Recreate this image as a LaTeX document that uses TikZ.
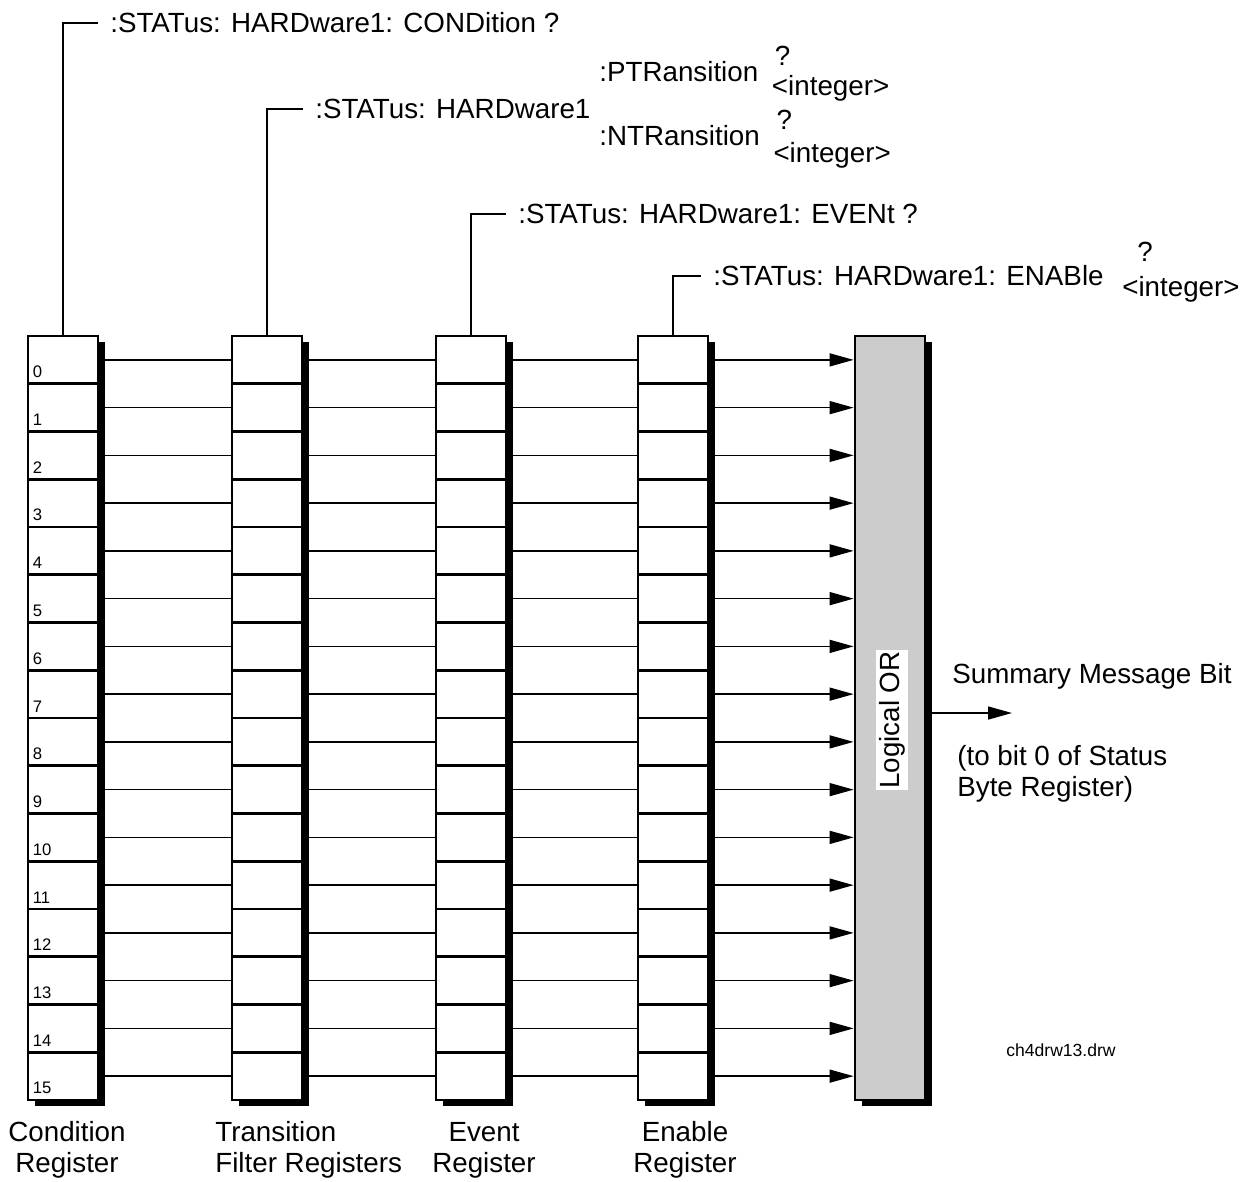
\documentclass[tikz,border=0pt]{standalone}
\usepackage{fontspec}
\setmainfont{Liberation Sans}
\usetikzlibrary{arrows.meta,shadows,positioning}

\begin{document}
\begin{tikzpicture}[x=0.02cm, y=-0.02cm,
every edge/.style = {draw=black, line width=0.85pt},
 reg/.style = {rectangle, draw, line width=1.6pt, fill=#1,
      minimum width=1.4cm, minimum height=15.28cm, inner sep=0pt,
      drop shadow={shadow xshift=0.14cm, shadow yshift=-0.12cm,
                   fill=black, opacity=1}},
 reg/.default = white,
 cell/.style = {rectangle, draw, line width=1.6pt,
      minimum width=1.4cm, minimum height=0.955cm, inner sep=0pt},
 bitno/.style = {anchor=south west, inner sep=0pt,
      font=\fontsize{9.5}{10}\selectfont},
 txt/.style = {inner sep=0pt, font=\fontsize{15.8}{17.8}\selectfont},
 cmd/.style = {txt, anchor=west, inner xsep=0.24cm},
 leader/.style = {draw, line width=1.1pt},
 toor/.style = {-{Triangle[length=0.48cm, width=0.26cm]}}
                    ]
\useasboundingbox (0,0) rectangle (1247,1181);
% registers
\foreach \r/\x in {cond/63, trans/267, event/471, enab/673}{
  \node(\r) [reg] at (\x, 718) {};
  \foreach \i in {0,...,15}
    \node(\r-\i) [cell] at (\x, 359.875+47.75*\i) {};
}
\foreach \i in {0,...,15}
  \node(no\i) [bitno] at ([xshift=0.12cm, yshift=0.14cm]cond-\i.south west) {\i};
\node(or) [reg=black!20] at (890, 718) {};
\node(orlbl) [txt, fill=white, rotate=90, inner xsep=1pt, inner ysep=2pt] at (892, 720) {Logical OR};
%
\foreach \i in {0,...,15}{
  \path   (cond-\i)  edge (trans-\i)
          (trans-\i) edge (event-\i)
          (event-\i) edge (enab-\i);
  \path   (enab-\i)  edge[toor] (or.west |- enab-\i);
}
\coordinate(smb) at (1012, 713);
\path   (or.east |- smb) edge[toor] (smb);
% commands
\node(qcond)  [cmd] at (98, 23)   {:STATus: HARDware1: CONDition ?};
\node(qtrans) [cmd] at (303, 109) {:STATus: HARDware1};
\node(qevent) [cmd] at (506, 214) {:STATus: HARDware1: EVENt ?};
\node(qenab)  [cmd] at (701, 276) {:STATus: HARDware1: ENABle};
\node(qpt) [txt, anchor=west] at (599, 72)  {:PTRansition};
\node(qnt) [txt, anchor=west] at (599, 136) {:NTRansition};
\node(qpt-q) [txt, anchor=west] at ([xshift=0.32cm, yshift=0.32cm]qpt.east) {?};
\node(qpt-i) [txt, anchor=west] at ([xshift=0.26cm, yshift=-0.32cm]qpt.east) {<integer>};
\node(qnt-q) [txt, anchor=west] at ([xshift=0.32cm, yshift=0.32cm]qnt.east) {?};
\node(qnt-i) [txt, anchor=west] at ([xshift=0.26cm, yshift=-0.38cm]qnt.east) {<integer>};
\node(qenab-i) [txt, anchor=west] at ([xshift=0.12cm, yshift=-0.26cm]qenab.east) {<integer>};
\node(qenab-q) [txt, anchor=west] at ([xshift=0.3cm, yshift=0.74cm]qenab-i.west) {?};
%
\draw[leader] (cond.north)  |- (qcond.west);
\draw[leader] (trans.north) |- (qtrans.west);
\draw[leader] (event.north) |- (qevent.west);
\draw[leader] (enab.north)  |- (qenab.west);
% labels
\node(lcond)  [txt, align=center] at (67, 1150)  {Condition\\Register};
\node(ltrans) [txt, align=left, anchor=west] at (215, 1150) {Transition\\Filter Registers};
\node(levent) [txt, align=center] at (484, 1150) {Event\\Register};
\node(lenab)  [txt, align=center] at (685, 1150) {Enable\\Register};
\node(lsmb) [txt, anchor=west] at (952, 676) {Summary Message Bit};
\node(lsbr) [txt, anchor=west, align=left] at (957, 774) {(to bit 0 of Status\\Byte Register)};
\node(fname) [inner sep=0pt, font=\fontsize{10}{12}\selectfont] at (1061, 1050) {ch4drw13.drw};
\end{tikzpicture}
\end{document}
